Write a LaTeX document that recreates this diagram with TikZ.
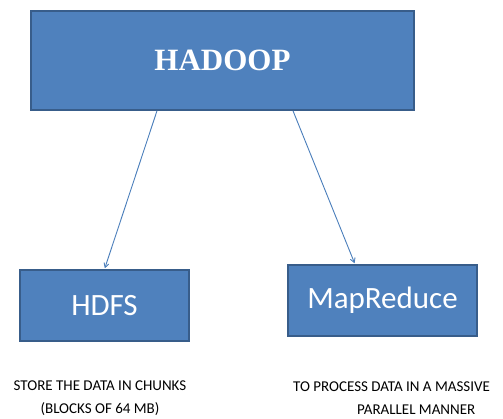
\documentclass[tikz,border=0pt]{standalone}
\usepackage{fontspec}
\setmainfont{Carlito}
\newfontfamily\hadoopfont{Liberation Serif}
\usepackage{tikz}
\usetikzlibrary{arrows,positioning}
\definecolor{boxblue}{HTML}{4F81BD}
\definecolor{boxedge}{HTML}{385D8A}
\definecolor{linkblue}{HTML}{4A7EBB}

\begin{document}
\begin{tikzpicture}[x=1pt,y=-1pt,>=angle 60,
  block/.style={rectangle,draw=boxedge,fill=boxblue,line width=1.6pt,text=white,inner sep=0pt},
  note/.style={font=\fontsize{15}{23}\selectfont,inner sep=0pt},
  link/.style={->,draw=linkblue,line width=0.9pt,shorten >=1pt}]
  \useasboundingbox (0,0) rectangle (503,419);

  \node [block, minimum width=383pt, minimum height=99pt,
         font=\hadoopfont\bfseries\fontsize{31}{31}\selectfont] (hadoop) at (222.5,60.5) {HADOOP};
  \node [block, minimum width=169pt, minimum height=71pt,
         font=\fontsize{31}{31}\selectfont] (hdfs) at (104.5,305.5) {HDFS};
  \node [block, minimum width=189pt, minimum height=71pt,
         font=\fontsize{31}{31}\selectfont] (mr) at (382.5,300.5) {MapReduce};

  \node [note, align=center] (store) at (100,398) {STORE THE DATA IN CHUNKS\\(BLOCKS OF 64 MB)};
  \node [note, align=left, anchor=west] (process) at (293,398) {TO PROCESS DATA IN A MASSIVE\\\hspace*{64pt}PARALLEL MANNER};

  \draw[link] ([xshift=-65.5pt]hadoop.south) -- (hdfs.north);
  \draw[link] ([xshift=70.5pt]hadoop.south) -- ([xshift=-27.5pt]mr.north);
\end{tikzpicture}
\end{document}
